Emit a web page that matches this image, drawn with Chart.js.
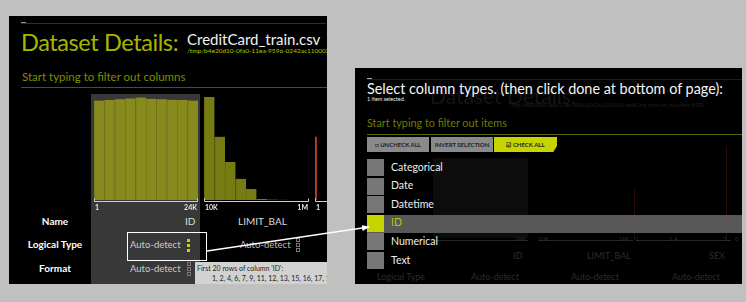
<!DOCTYPE html>
<html>
<head>
<meta charset="utf-8">
<script src="https://cdn.jsdelivr.net/npm/chart.js@4"></script>
<style>
  body { margin: 0; background: #c0c0c0; width: 746px; height: 302px; overflow: hidden; position: relative; font-family: Lato, "Open Sans", sans-serif; }
  .abs { position: absolute; white-space: nowrap; }
  .panel { position: absolute; background: #000; overflow: hidden; }
  canvas { position: absolute; }
  .lbl { color: #fff; font-size: 10px; font-weight: bold; }
  .sq { position: absolute; width: 3px; height: 3px; }
  .sq.on { background: #c6d400; }
  .sq.off { border: 1px solid #777; width: 2px; height: 2px; }
  .btn { position: absolute; top: 69px; height: 15px; background: #8a8a8a; color: #222; font-size: 6px; font-weight: bold; line-height: 15px; text-align: center; }
  .cb { position: absolute; left: 12px; width: 17px; height: 17px; background: #777; }
  .item { position: absolute; left: 36px; color: #eee; font-size: 10.5px; }
  .dim { position: absolute; color: #2c2c2c; font-size: 9px; white-space: nowrap; }
</style>
</head>
<body>

<!-- left panel : dataset details -->
<div class="panel" id="left" style="left:9px; top:16px; width:318px; height:268px;">
  <div class="abs" style="left:12px; top:7px; width:305px; height:1px; background:#2e2e2e;"></div>
  <div class="abs" style="left:12px; top:6px; width:5px; height:1px; background:#999;"></div>
  <div class="abs" style="left:12px; top:12px; color:#a8b600; font-size:23.5px; letter-spacing:-0.4px;">Dataset Details:</div>
  <div class="abs" style="left:178px; top:14px; color:#f2f2f2; font-size:15px;">CreditCard_train.csv</div>
  <div class="abs" style="left:178px; top:31px; color:#b4c400; font-size:6.5px;">/tmp/b4e20d10-0fa0-11ea-9596-0242ac110002/CreditCard_train.csv</div>
  <div class="abs" style="left:13px; top:54px; color:#7f8c00; font-size:11.5px;">Start typing to filter out columns</div>
  <div class="abs" style="left:12px; top:71px; width:306px; height:1px; background:#4c5500;"></div>
  <div class="abs" style="left:82px; top:78px; width:109px; height:200px; background:#383838;"></div>

  <div class="abs lbl" style="left:26px; top:199px; width:40px; text-align:center;">Name</div>
  <div class="abs lbl" style="left:6px; top:222px; width:80px; text-align:center;">Logical Type</div>
  <div class="abs lbl" style="left:26px; top:246px; width:40px; text-align:center;">Format</div>

  <div class="abs" style="left:176px; top:199px; color:#ddd; font-size:10px;">ID</div>
  <div class="abs" style="left:229px; top:199px; color:#ddd; font-size:10px;">LIMIT_BAL</div>

  <div class="abs" style="left:121px; top:223px; color:#ccc; font-size:9.5px;">Auto-detect</div>
  <div class="sq on" style="left:178px; top:223px;"></div>
  <div class="sq on" style="left:178px; top:228px;"></div>
  <div class="sq on" style="left:178px; top:233px;"></div>
  <div class="abs" style="left:118px; top:216px; width:78px; height:27px; border:1.5px solid #fff;"></div>

  <div class="abs" style="left:231px; top:223px; color:#bbb; font-size:9.5px;">Auto-detect</div>
  <div class="sq off" style="left:287px; top:222px;"></div>
  <div class="sq off" style="left:287px; top:227px;"></div>
  <div class="sq off" style="left:287px; top:232px;"></div>

  <div class="abs" style="left:121px; top:247px; color:#ccc; font-size:9.5px;">Auto-detect</div>
  <div class="sq off" style="left:178px; top:246px;"></div>
  <div class="sq off" style="left:178px; top:251px;"></div>
  <div class="sq off" style="left:178px; top:256px;"></div>
  <div class="sq off" style="left:287px; top:246px;"></div>

  <div class="abs" style="left:186px; top:246px; width:140px; height:24px; background:#d2d2d2;"></div>
  <div class="abs" style="left:188px; top:248px; color:#222; font-size:7px;">First 20 rows of column 'ID':</div>
  <div class="abs" style="left:203px; top:258px; color:#222; font-size:7px;">1, 2, 4, 6, 7, 9, 11, 12, 13, 15, 16, 17, 18, 19</div>

  <canvas id="idHist" width="104" height="120" style="left:85px; top:78px;"></canvas>
  <canvas id="limitHist" width="105" height="120" style="left:195px; top:78px;"></canvas>
  <canvas id="sexHist" width="104" height="120" style="left:306px; top:78px;"></canvas>
</div>

<!-- right panel : column type selector -->
<div class="panel" id="right" style="left:355px; top:68px; width:387px; height:216px;">
  <div class="dim" style="left:75px; top:15px; font-size:21px; color:#141414;">Dataset Details:</div>
  <div class="dim" style="left:155px; top:34px; font-size:5px; color:#202020;">/tmp/b4e20d10-0fa0-11ea-9596-0242ac110002/CreditCard_train.csv, max rows: 8192</div>
  <div class="abs" style="left:12px; top:11px; width:375px; height:1px; background:#1e1e1e;"></div>
  <div class="abs" style="left:12px; top:10px; width:5px; height:1px; background:#aaa;"></div>
  <div class="abs" style="left:12px; top:12px; color:#f4f4f4; font-size:14.4px;">Select column types. (then click done at bottom of page):</div>
  <div class="abs" style="left:12px; top:28px; color:#eee; font-size:5.5px;">1 item selected.</div>
  <div class="abs" style="left:12px; top:48px; color:#6f7c00; font-size:10.8px;">Start typing to filter out items</div>
  <div class="abs" style="left:12px; top:66px; width:375px; height:1px; background:#5a6400;"></div>

  <div class="btn" style="left:12px; width:62px;">&#9633; UNCHECK ALL</div>
  <div class="btn" style="left:76px; width:62px;">INVERT SELECTION</div>
  <div class="btn" style="left:139px; width:63px; background:#c6d400; clip-path: polygon(0 0, 100% 0, 100% 60%, 94% 100%, 0 100%);">&#9745; CHECK ALL</div>

  <!-- faded page behind the dialog -->
  <div class="abs" style="left:78px; top:90px; width:95px; height:80px; background:#0c0c0c;"></div>
  <div class="abs" style="left:78px; top:172px; width:95px; height:1px; background:#262626;"></div>
  <div class="abs" style="left:183px; top:172px; width:95px; height:1px; background:#262626;"></div>
  <div class="abs" style="left:279px; top:120px; width:1px; height:52px; background:#2a0c04;"></div>
  <div class="abs" style="left:371px; top:79px; width:1px; height:93px; background:#2a0c04;"></div>
  <div class="abs" style="left:281px; top:172px; width:95px; height:1px; background:#262626;"></div>
  <div class="dim" style="left:160px; top:167px; font-size:6px;">24K</div>
  <div class="dim" style="left:183px; top:167px; font-size:6px;">10K</div>
  <div class="dim" style="left:264px; top:167px; font-size:6px;">1M</div>
  <div class="dim" style="left:280px; top:167px; font-size:6px;">1</div>
  <div class="dim" style="left:314px; top:167px; font-size:6px;">1.4</div>
  <div class="dim" style="left:368px; top:167px; font-size:6px;">2</div>
  <div class="dim" style="left:380px; top:167px; font-size:6px;">0</div>
  <div class="dim" style="left:158px; top:182px;">ID</div>
  <div class="dim" style="left:232px; top:182px;">LIMIT_BAL</div>
  <div class="dim" style="left:354px; top:182px;">SEX</div>
  <div class="dim" style="left:22px; top:203px;">Logical Type</div>
  <div class="dim" style="left:116px; top:203px;">Auto-detect</div>
  <div class="dim" style="left:216px; top:203px;">Auto-detect</div>
  <div class="dim" style="left:317px; top:203px;">Auto-detect</div>

  <div class="abs" style="left:12px; top:147px; width:375px; height:18px; background:#585858;"></div>
  <div id="typeList"></div>
</div>

<!-- arrow from the logical type box to the ID type -->
<svg class="abs" width="746" height="302" style="left:0; top:0;">
  <defs>
    <marker id="head" markerWidth="8" markerHeight="6" refX="7" refY="3" orient="auto" markerUnits="userSpaceOnUse">
      <path d="M0,0 L8,3 L0,6 z" fill="#fff"/>
    </marker>
  </defs>
  <line x1="207" y1="251" x2="369" y2="227" stroke="#fff" stroke-width="1.5" marker-end="url(#head)"/>
</svg>

<script>
// column types in the selector
const columnTypes = ['Categorical', 'Date', 'Datetime', 'ID', 'Numerical', 'Text'];
const selectedType = 'ID';

// histogram counts, 10 bins each
const idCounts = [2380, 2390, 2410, 2430, 2450, 2420, 2410, 2400, 2390, 2380];
const limitCounts = [10400, 6400, 3850, 2150, 1100, 110, 45, 20, 10, 5];
const sexCounts = [9100, 14900];

// axis end labels
const idTicks = ['1', '24K'];
const limitTicks = ['10K', '1M'];
const sexTicks = ['1', '2'];

// liste des types
const list = document.getElementById('typeList');
columnTypes.forEach((t, i) => {
    const top = 91 + i * 18.6;
    const on = t === selectedType;
    list.insertAdjacentHTML('beforeend',
        '<div class="cb" style="top:' + top + 'px;' + (on ? 'background:#c6d400;' : '') + '"></div>' +
        '<div class="item" style="top:' + (top + 1.5) + 'px;' + (on ? 'color:#b9c800;' : '') + '">' + t + '</div>');
});

// axe du bas avec petits crochets aux extremites
const endAxis = {
    id: 'endAxis',
    afterDraw(chart, args, opts) {
        const { ctx, chartArea } = chart;
        const x = chart.scales.x;
        const y = chartArea.bottom + 1.5;
        ctx.save();
        ctx.strokeStyle = '#cfcfcf';
        ctx.lineWidth = 1;
        ctx.beginPath();
        ctx.moveTo(x.left + 0.5, y - 3);
        ctx.lineTo(x.left + 0.5, y);
        ctx.lineTo(x.right - 0.5, y);
        ctx.lineTo(x.right - 0.5, y - 3);
        ctx.stroke();
        ctx.fillStyle = '#e6e6e6';
        ctx.font = 'bold 7px Lato';
        ctx.textBaseline = 'top';
        ctx.textAlign = 'left';
        ctx.fillText(opts.labels[0], x.left + 1, y + 3);
        ctx.textAlign = 'right';
        ctx.fillText(opts.labels[1], x.right - 1, y + 3);
        ctx.restore();
    }
};

function makeHist(id, counts, color, border, ticks, topGap, extra) {
    const maxVal = Math.max(...counts);
    new Chart(document.getElementById(id), {
        type: 'bar',
        data: {
            labels: counts.map((c, i) => i),
            datasets: [Object.assign({
                data: counts,
                backgroundColor: color,
                borderColor: border,
                borderWidth: { left: 1, right: 0, top: 0, bottom: 0 },
                borderSkipped: false,
                barPercentage: 1,
                categoryPercentage: 1
            }, extra || {})]
        },
        options: {
            responsive: false,
            animation: false,
            devicePixelRatio: 1,
            layout: { padding: { left: 0, right: 0, top: 0, bottom: 14 } },
            plugins: { legend: { display: false }, tooltip: { enabled: false }, endAxis: { labels: ticks } },
            scales: {
                x: { display: false, offset: extra ? false : true },
                y: { display: false, min: 0, max: maxVal * topGap }
            }
        },
        plugins: [endAxis]
    });
}

makeHist('idHist', idCounts, '#878b1e', '#74781a', idTicks, 1.035);
makeHist('limitHist', limitCounts, '#777c12', '#686c10', limitTicks, 1.03);
makeHist('sexHist', sexCounts, '#c4401a', '#c4401a', sexTicks, 1.03, { barThickness: 3, borderWidth: 0 });
</script>
</body>
</html>
